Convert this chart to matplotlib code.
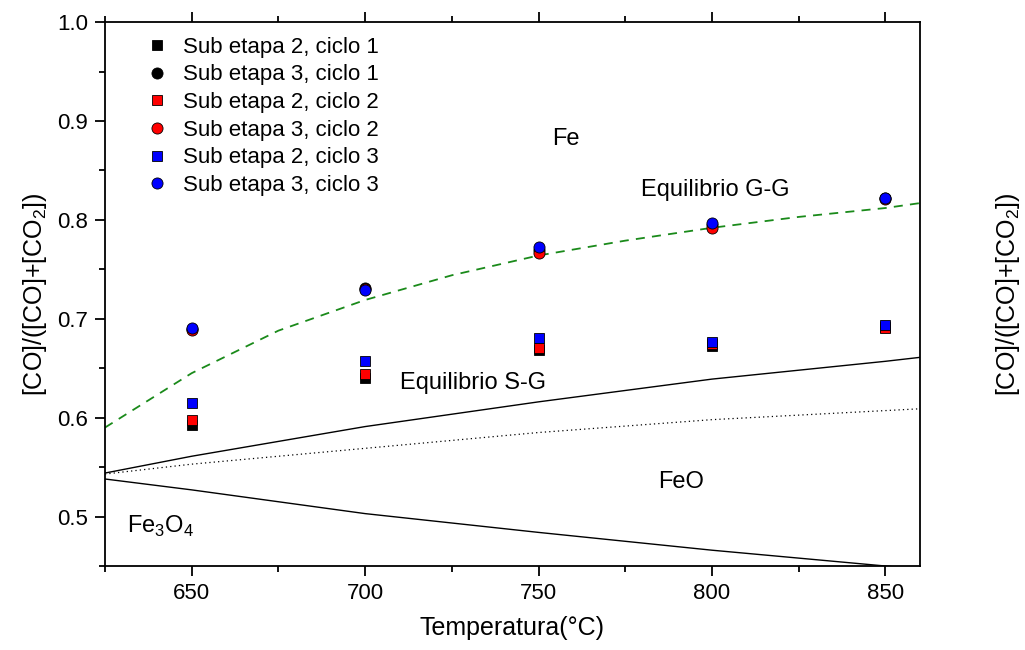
import matplotlib
matplotlib.use("Agg")
import matplotlib.pyplot as plt
from matplotlib.ticker import MultipleLocator

plt.rcParams['font.family'] = ['Liberation Sans', 'DejaVu Sans']
plt.rcParams['mathtext.fontset'] = 'custom'
plt.rcParams['mathtext.rm'] = 'Liberation Sans'

temps = [650, 700, 750, 800, 850]
s2_c1 = [0.593, 0.640, 0.668, 0.672, 0.692]
s3_c1 = [0.690, 0.731, 0.770, 0.795, 0.822]
s2_c2 = [0.598, 0.644, 0.670, 0.675, 0.691]
s3_c2 = [0.689, 0.730, 0.767, 0.792, 0.821]
s2_c3 = [0.615, 0.657, 0.681, 0.677, 0.694]
s3_c3 = [0.691, 0.729, 0.773, 0.797, 0.822]

# equilibrium curves
gg_t = [625, 650, 675, 700, 725, 750, 775, 800, 825, 850, 860]
gg_y = [0.590, 0.645, 0.688, 0.719, 0.744, 0.764, 0.779, 0.792, 0.803, 0.812, 0.817]
fe_feo_t = [625, 650, 700, 750, 800, 850, 860]
fe_feo_y = [0.544, 0.561, 0.591, 0.616, 0.639, 0.657, 0.661]
dot_t = [625, 650, 700, 750, 800, 860]
dot_y = [0.543, 0.553, 0.569, 0.585, 0.598, 0.609]
mag_t = [625, 650, 700, 750, 800, 850, 860]
mag_y = [0.538, 0.527, 0.503, 0.484, 0.466, 0.450, 0.447]

fig = plt.figure(figsize=(10.25, 6.5), dpi=100)
ax = fig.add_axes([0.1024, 0.1292, 0.7952, 0.8368])

ax.plot(gg_t, gg_y, color='#1a8a1a', ls=(0, (5, 4)), lw=1.3, zorder=2)
ax.plot(fe_feo_t, fe_feo_y, color='black', lw=1.0, zorder=2)
ax.plot(dot_t, dot_y, color='black', ls=(0, (1, 2.5)), lw=0.9, zorder=2)
ax.plot(mag_t, mag_y, color='black', lw=1.0, zorder=2)

series = [
    (s2_c1, 's', 'black', 'Sub etapa 2, ciclo 1'),
    (s3_c1, 'o', 'black', 'Sub etapa 3, ciclo 1'),
    (s2_c2, 's', 'red', 'Sub etapa 2, ciclo 2'),
    (s3_c2, 'o', 'red', 'Sub etapa 3, ciclo 2'),
    (s2_c3, 's', 'blue', 'Sub etapa 2, ciclo 3'),
    (s3_c3, 'o', 'blue', 'Sub etapa 3, ciclo 3'),
]
for vals, mk, col, lab in series:
    ax.plot(temps, vals, ls='none', marker=mk, color=col, mec='black', mew=0.6,
            ms=7 if mk == 's' else 8, label=lab, zorder=3)

ax.set_xlim(625, 860)
ax.set_ylim(0.45, 1.0)
ax.xaxis.set_major_locator(MultipleLocator(50))
ax.xaxis.set_minor_locator(MultipleLocator(25))
ax.yaxis.set_major_locator(MultipleLocator(0.1))
ax.yaxis.set_minor_locator(MultipleLocator(0.05))
ax.tick_params(which='both', direction='out', width=1.3, labelsize=16,
               top=True, right=True, labelright=True, pad=5)
ax.tick_params(which='major', length=7)
ax.tick_params(which='minor', length=4)
for sp in ax.spines.values():
    sp.set_linewidth(1.3)

ylab = '[CO]/([CO]+[CO$_2$])'
ax.set_xlabel('Temperatura(°C)', fontsize=18, labelpad=9)
ax.set_ylabel(ylab, fontsize=18, labelpad=6)
ax2 = ax.twinx()
ax2.set_ylim(ax.get_ylim())
ax2.set_yticks([])
ax2.set_ylabel(ylab, fontsize=18, labelpad=53, rotation=90)
ax2.yaxis.set_label_position('right')
for sp in ax2.spines.values():
    sp.set_visible(False)

ax.text(758, 0.882, 'Fe', fontsize=17, ha='center', va='center')
ax.text(801, 0.83, 'Equilibrio G-G', fontsize=17, ha='center', va='center')
ax.text(731, 0.635, 'Equilibrio S-G', fontsize=17, ha='center', va='center')
ax.text(791, 0.535, 'FeO', fontsize=17, ha='center', va='center')
ax.text(641, 0.49, 'Fe$_3$O$_4$', fontsize=17, ha='center', va='center')

ax.legend(loc='upper left', bbox_to_anchor=(0.02, 1.01), frameon=False, fontsize=16,
          handletextpad=0.5, labelspacing=0.3, handlelength=1.4)

fig.savefig('out.png', dpi=100)
